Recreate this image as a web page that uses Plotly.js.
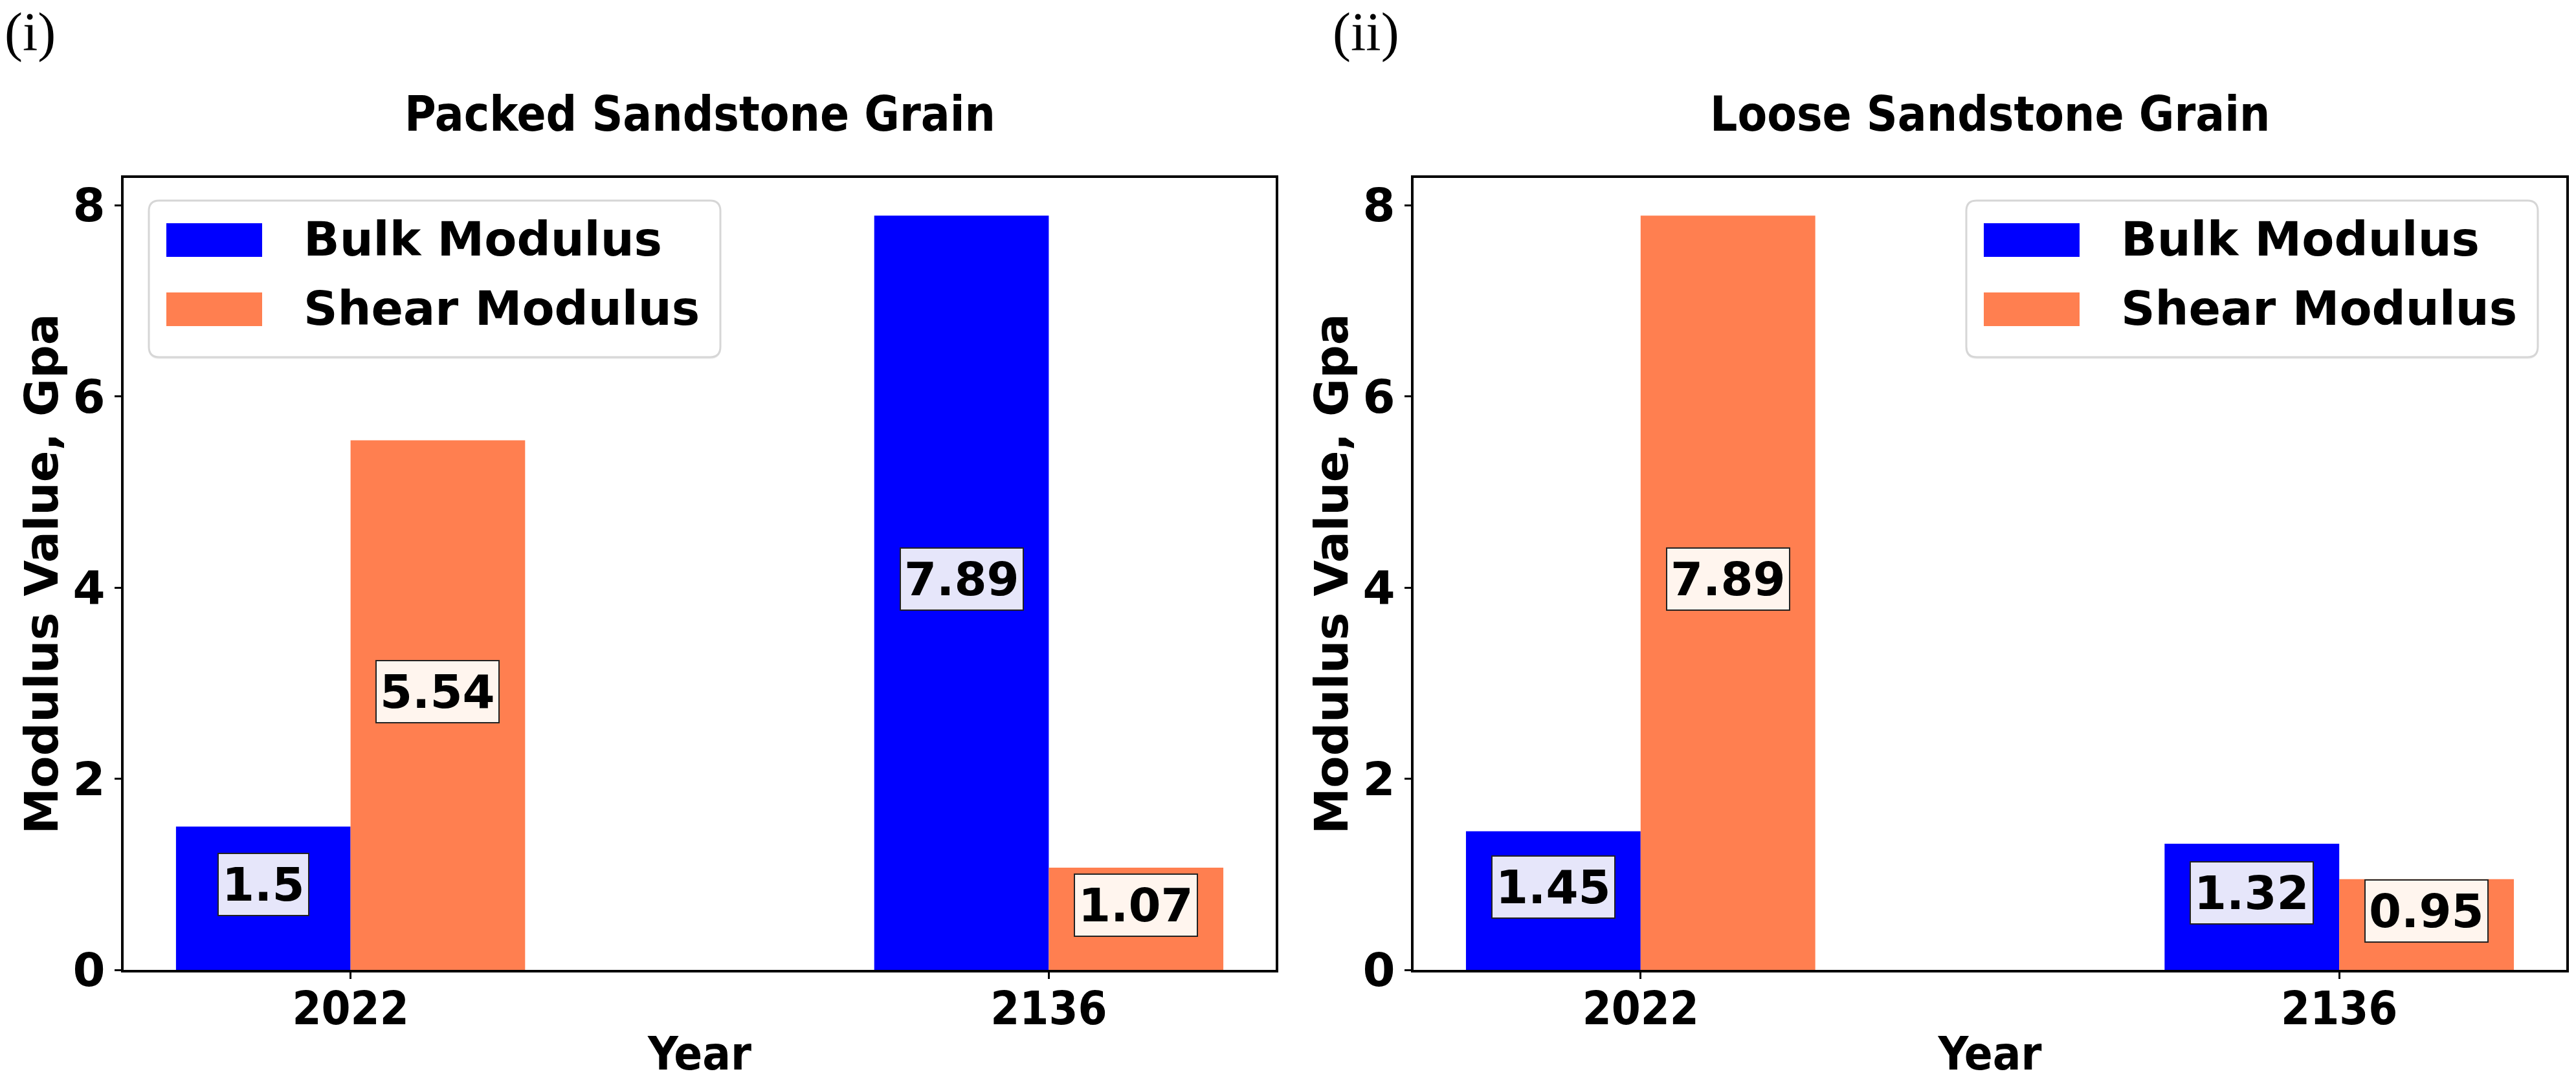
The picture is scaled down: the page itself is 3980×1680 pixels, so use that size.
<!DOCTYPE html>
<html>
<head>
<meta charset="utf-8">
<script src="https://cdn.plot.ly/plotly-3.0.1.min.js"></script>
<style>html,body{margin:0;padding:0;background:#fff;}#chart{width:3980px;height:1680px;}</style>
</head>
<body>
<div id="chart"></div>
<script>
// ---- data ----
const years = ['2022', '2136'];
const seriesNames = ['Bulk Modulus', 'Shear Modulus'];
const packedBulk = [1.5, 7.89];
const packedShear = [5.54, 1.07];
const looseBulk = [1.45, 1.32];
const looseShear = [7.89, 0.95];
const panelTitles = ['Packed Sandstone Grain', 'Loose Sandstone Grain'];
const panelTags = ['(i)', '(ii)'];
const yTicks = [0, 2, 4, 6, 8];

// ---- styling ----
const W = 3980, H = 1680;
const BLUE = '#0000ff', CORAL = '#ff7f50';
const FONT = 'DejaVu Sans';
const CFONT = "'DejaVu Sans Condensed', 'DejaVu Sans'";
const FS = 72;
const px = x => x / W;
const py = y => 1 - y / H;

const xDom1 = [px(191), px(1971)];
const xDom2 = [px(2184), px(3965)];
const yDom = [py(1499), py(275)];
const yMax = Math.max(...packedBulk, ...packedShear, ...looseBulk, ...looseShear) * 1.05;

function barTrace(y, name, color, xa, ya) {
  return {type: 'bar', x: years, y: y, name: name, xaxis: xa, yaxis: ya,
    marker: {color: color, line: {width: 0}}, showlegend: false, hoverinfo: 'skip'};
}

const data = [
  barTrace(packedBulk, seriesNames[0], BLUE, 'x', 'y'),
  barTrace(packedShear, seriesNames[1], CORAL, 'x', 'y'),
  barTrace(looseBulk, seriesNames[0], BLUE, 'x2', 'y2'),
  barTrace(looseShear, seriesNames[1], CORAL, 'x2', 'y2')
];

function xAxis(dom, anchor) {
  return {domain: dom, anchor: anchor, type: 'category', range: [-0.325, 1.325],
    showline: true, linecolor: '#000', linewidth: 4, mirror: true,
    ticks: 'outside', ticklen: 10, tickwidth: 3, tickcolor: '#000',
    ticklabelstandoff: -16,
    showgrid: false, zeroline: false, automargin: false,
    tickfont: {family: CFONT, size: 72, color: '#000', weight: 700},
    title: {text: 'Year', standoff: 4, font: {family: CFONT, size: 72, color: '#000', weight: 700}}};
}
function yAxis(dom, anchor) {
  return {domain: dom, anchor: anchor, range: [0, yMax], tickmode: 'array', tickvals: yTicks,
    showline: true, linecolor: '#000', linewidth: 4, mirror: true,
    ticks: 'outside', ticklen: 10, tickwidth: 3, tickcolor: '#000',
    showgrid: false, zeroline: false, automargin: false,
    tickfont: {family: FONT, size: FS, color: '#000', weight: 700},
    title: {text: 'Modulus Value, Gpa', standoff: 0, font: {family: FONT, size: FS, color: '#000', weight: 700}}};
}

const annotations = [];
const shapes = [];

// value labels in the middle of each bar
function addLabels(bulk, shear, xref, yref) {
  [[bulk, -0.125, '#e6e6fa'], [shear, 0.125, '#fff5ee']].forEach(([vals, off, bg]) => {
    vals.forEach((v, i) => {
      annotations.push({xref: xref, yref: yref, x: i + off, y: v / 2, yshift: 21,
        text: String(v), showarrow: false, xanchor: 'center', yanchor: 'middle',
        bgcolor: bg, bordercolor: '#222', borderwidth: 2, borderpad: 5,
        font: {family: FONT, size: FS, color: '#000', weight: 700}});
    });
  });
}
addLabels(packedBulk, packedShear, 'x', 'y');
addLabels(looseBulk, looseShear, 'x2', 'y2');

// panel titles and tags
[xDom1, xDom2].forEach((dom, k) => {
  annotations.push({xref: 'paper', yref: 'paper', x: (dom[0] + dom[1]) / 2, y: py(176),
    text: panelTitles[k], showarrow: false, xanchor: 'center', yanchor: 'middle',
    font: {family: CFONT, size: 74, color: '#000', weight: 700}});
});
[[px(46), py(50)], [px(2110), py(50)]].forEach((p, k) => {
  annotations.push({xref: 'paper', yref: 'paper', x: p[0], y: p[1], text: panelTags[k],
    showarrow: false, xanchor: 'center', yanchor: 'middle',
    font: {family: 'Liberation Serif', size: 84, color: '#000'}});
});

// custom legends (matplotlib style: long swatches, rounded frame)
function roundRect(x0, y0, x1, y1, r) {
  const rx = r / W, ry = r / H;
  const a = px(x0), b = px(x1), top = py(y0), bot = py(y1);
  return `M${a + rx},${top} L${b - rx},${top} Q${b},${top} ${b},${top - ry} ` +
    `L${b},${bot + ry} Q${b},${bot} ${b - rx},${bot} L${a + rx},${bot} Q${a},${bot} ${a},${bot + ry} ` +
    `L${a},${top - ry} Q${a},${top} ${a + rx},${top} Z`;
}
function addLegend(boxLeft) {
  const top = 310, bottom = 552;
  shapes.push({type: 'path', xref: 'paper', yref: 'paper', path: roundRect(boxLeft, top + 3, boxLeft + 883, bottom + 3, 16),
    fillcolor: 'rgba(0,0,0,0.06)', line: {width: 0}, layer: 'above'});
  shapes.push({type: 'path', xref: 'paper', yref: 'paper', path: roundRect(boxLeft, top, boxLeft + 883, bottom, 16),
    fillcolor: 'rgba(255,255,255,0.95)', line: {color: '#d6d6d6', width: 3}, layer: 'above'});
  const rows = [[345, 397, BLUE, seriesNames[0]], [452, 504, CORAL, seriesNames[1]]];
  rows.forEach(([y0, y1, c, name]) => {
    shapes.push({type: 'rect', xref: 'paper', yref: 'paper', x0: px(boxLeft + 27), x1: px(boxLeft + 175),
      y0: py(y1), y1: py(y0), fillcolor: c, line: {width: 0}, layer: 'above'});
    annotations.push({xref: 'paper', yref: 'paper', x: px(boxLeft + 237), y: py((y0 + y1) / 2 - 2),
      text: name, showarrow: false, xanchor: 'left', yanchor: 'middle',
      font: {family: FONT, size: 73, color: '#000', weight: 700}});
  });
}
addLegend(230);
addLegend(3038);

const layout = {
  width: W, height: H, margin: {l: 0, r: 0, t: 0, b: 0},
  paper_bgcolor: '#fff', plot_bgcolor: '#fff',
  barmode: 'group', bargap: 0.5, bargroupgap: 0,
  showlegend: false,
  xaxis: xAxis(xDom1, 'y'), yaxis: yAxis(yDom, 'x'),
  xaxis2: xAxis(xDom2, 'y2'), yaxis2: yAxis(yDom, 'x2'),
  annotations: annotations, shapes: shapes
};

Plotly.newPlot('chart', data, layout, {staticPlot: true, displayModeBar: false});
</script>
</body>
</html>
